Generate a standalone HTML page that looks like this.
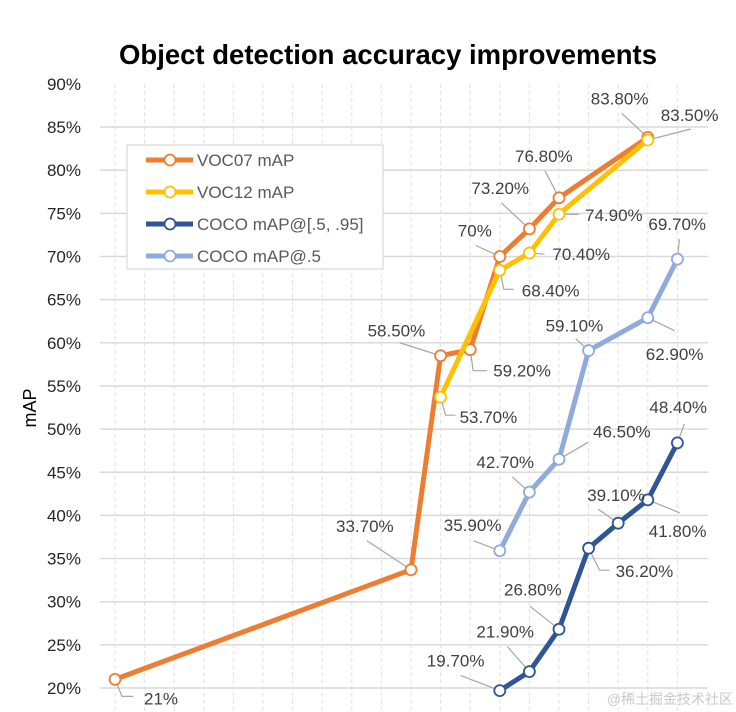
<!DOCTYPE html>
<html><head><meta charset="utf-8"><style>
html,body{margin:0;padding:0;background:#fff;}
svg{display:block;font-family:"Liberation Sans","Noto Sans CJK SC",sans-serif;}
</style></head><body>
<svg id="chart" width="736" height="712" viewBox="0 0 736 712">
<text x="388" y="64" text-anchor="middle" font-size="27.5" font-weight="bold" fill="#000">Object detection accuracy improvements</text>
<text transform="translate(36,408) rotate(-90)" text-anchor="middle" font-size="18" fill="#000">mAP</text>
<g id="grid"></g><g id="yticks"></g><g id="leaders"></g><g id="series"></g><g id="labels"></g>
<g>
<rect x="127" y="145" width="256" height="124" fill="#fff" stroke="#d0d0d0" stroke-width="1"/>
<g id="legend"></g>
</g>
<text x="733" y="704" text-anchor="end" font-size="14" fill="#c8c8c8">@稀土掘金技术社区</text>
</svg>
<script>
const yTicks=[20,25,30,35,40,45,50,55,60,65,70,75,80,85,90];
const seriesNames=["VOC07 mAP","VOC12 mAP","COCO mAP@[.5, .95]","COCO mAP@.5"];
const voc07X=[0,10,11,12,13,14,15,18];
const voc07Y=[21,33.7,58.5,59.2,70,73.2,76.8,83.8];
const voc12X=[11,13,14,15,18];
const voc12Y=[53.7,68.4,70.4,74.9,83.5];
const cocoX=[13,14,15,16,17,18,19];
const cocoY=[19.7,21.9,26.8,36.2,39.1,41.8,48.4];
const coco5X=[13,14,15,16,18,19];
const coco5Y=[35.9,42.7,46.5,59.1,62.9,69.7];
const voc07Labels=["21%","33.70%","58.50%","59.20%","70%","73.20%","76.80%","83.80%"];
const voc12Labels=["53.70%","68.40%","70.40%","74.90%","83.50%"];
const cocoLabels=["19.70%","21.90%","26.80%","36.20%","39.10%","41.80%","48.40%"];
const coco5Labels=["35.90%","42.70%","46.50%","59.10%","62.90%","69.70%"];

const NS="http://www.w3.org/2000/svg";
function X(i){return 115+29.6*i;}
function Y(v){return 688-(v-20)*8.63;}
function mk(tag,attrs,parent){const e=document.createElementNS(NS,tag);for(const k in attrs)e.setAttribute(k,attrs[k]);parent.appendChild(e);return e;}
const grid=document.getElementById('grid'),yt=document.getElementById('yticks');
for(let i=0;i<=19;i++){
  const l=mk('line',{x1:X(i),x2:X(i),y1:84,y2:712,stroke:'#e0e0e0','stroke-dasharray':'4,3','stroke-width':1},grid);
  
  
}
yTicks.forEach(v=>{
  if(v<90){const l=mk('line',{x1:100,x2:708,y1:Y(v),y2:Y(v),stroke:'#d9d9d9','stroke-width':1.5},grid);
  
  }
  const t=mk('text',{x:81,y:Y(v)+6,'text-anchor':'end','font-size':17,fill:'#262626'},yt);
  t.textContent=v+'%';
  
  
});
const colors=['#ED7D31','#FFC000','#2F5597','#8FAADC'];
const allX=[voc07X,voc12X,cocoX,coco5X],allY=[voc07Y,voc12Y,cocoY,coco5Y],allL=[voc07Labels,voc12Labels,cocoLabels,coco5Labels];
const ids=['voc07','voc12','coco','coco5'];
const place={
 voc07:[[29,19,[[0,0],[7,17],[18,17]]],[-75,-44,[[0,0],[-44,-29]]],[-73,-25,[[0,0],[-41,-13]]],[23,21,[[0,0],[3,21],[17,21]]],[-42,-26,[[0,0],[-24,-11]]],[-58,-41,[[0,0],[-28,-26]]],[-44,-42,[[0,0],[-14,-27]]],[-57,-39,[[0,0],[-26,-24]]]],
 voc12:[[19,20,[[0,0],[5,18],[15,18]]],[22,20,[[0,0],[4,19],[14,19]]],[23,1,[[0,0],[15,1]]],[26,1,[[0,0],[20,0]]],[13,-25,[[0,0],[43,-11]]]],
 coco:[[-73,-30,[[0,0],[-39,-15]]],[-53,-40,[[0,0],[-22,-25]]],[-55,-40,[[0,0],[-29,-23]]],[27,23,[[0,0],[11,22],[21,22]]],[-31,-28,[[0,0],[-20,-14]]],[1,31,[[0,0],[32,13]]],[-28,-36,[[0,0],[7,-19]]]],
 coco5:[[-56,-26,[[0,0],[-26,-10]]],[-53,-30,[[0,0],[-17,-15]]],[34,-28,[[0,0],[29,-17]]],[-43,-25,[[0,0],[-13,-12]]],[-2,36,[[0,0],[27,13]]],[-29,-35,[[0,0],[2,-20]]]]
};
const ser=document.getElementById('series'),lab=document.getElementById('labels'),lead=document.getElementById('leaders');
allX.forEach((xs,s)=>{
  const g=mk('g',{},ser);
  
  
  const pts=xs.map((x,i)=>X(x)+','+Y(allY[s][i])).join(' ');
  const pl=mk('polyline',{points:pts,fill:'none',stroke:colors[s],'stroke-width':5,'stroke-linejoin':'round'},g);
  
  
  xs.forEach((x,i)=>{
    const px=X(x),py=Y(allY[s][i]);
    const c=mk('circle',{cx:px,cy:py,r:5.5,fill:'#fff',stroke:colors[s],'stroke-width':1.8},g);
    
    
    const p=place[ids[s]][i];
    const lp=mk('polyline',{points:p[2].map(q=>(px+q[0])+','+(py+q[1])).join(' '),fill:'none',stroke:'#a6a6a6','stroke-width':1.2},lead);
    
    
    const t=mk('text',{x:px+p[0],y:py+p[1]+6,'font-size':17,fill:'#404040'},lab);
    t.textContent=allL[s][i];
    
    
  });
});
const leg=document.getElementById('legend');
seriesNames.forEach((n,i)=>{
  const y=160+32*i;
  const g=mk('g',{},leg);
  
  
  mk('line',{x1:146,x2:193,y1:y,y2:y,stroke:colors[i],'stroke-width':5},g);
  mk('circle',{cx:170,cy:y,r:5.5,fill:'#fff',stroke:colors[i],'stroke-width':1.8},g);
  const t=mk('text',{x:197,y:y+6,'font-size':17,fill:'#595959'},g);
  t.textContent=n;
});
</script>
</body></html>
